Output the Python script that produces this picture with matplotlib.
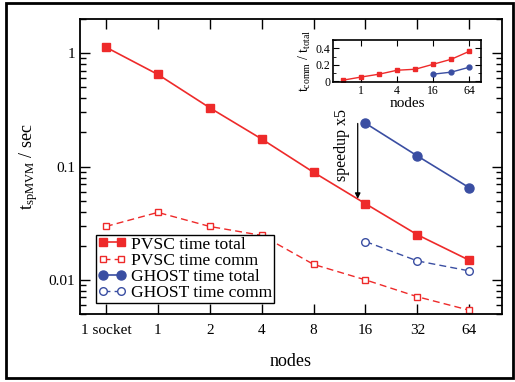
import numpy as np
import matplotlib.pyplot as plt
from matplotlib.patches import Rectangle
from matplotlib.ticker import LogLocator, NullFormatter, FixedLocator, MultipleLocator

plt.rcParams['font.family'] = 'Liberation Serif'
plt.rcParams['mathtext.fontset'] = 'custom'
plt.rcParams['mathtext.rm'] = 'Liberation Serif'
plt.rcParams['mathtext.it'] = 'Liberation Serif'

# main chart data
node_labels = ['1 socket', '1', '2', '4', '8', '16', '32', '64']
pvsc_total = [1.13, 0.65, 0.33, 0.175, 0.089, 0.047, 0.025, 0.0149]
pvsc_comm = [0.0296, 0.0394, 0.0296, 0.0247, 0.0137, 0.0100, 0.0071, 0.0054]
ghost_labels = ['16', '32', '64']
ghost_total = [0.241, 0.124, 0.065]
ghost_comm = [0.0218, 0.0147, 0.0120]

# inset data (ratio comm / total)
inset_nodes = [0.5, 1, 2, 4, 8, 16, 32, 64]
pvsc_ratio = [0.012, 0.05, 0.085, 0.133, 0.145, 0.206, 0.267, 0.364]
ghost_nodes = [16, 32, 64]
ghost_ratio = [0.085, 0.11, 0.17]

red = '#ee2a2a'
blue = '#3a4ea2'

fig = plt.figure(figsize=(5.15, 3.82), dpi=100)
fig.patches.append(Rectangle((0.011, 0.01), 0.985, 0.982, transform=fig.transFigure,
                             fill=False, edgecolor='black', linewidth=2))

ax = fig.add_axes([0.1553, 0.178, 0.8195, 0.772])
x = np.arange(len(node_labels))
gx = [node_labels.index(g) for g in ghost_labels]

ax.plot(x, pvsc_total, '-s', color=red, lw=1.2, ms=5.5,
        label='PVSC time total')
ax.plot(x, pvsc_comm, '--s', color=red, lw=1.0, ms=5, mfc='white',
        mew=1.0, dashes=(5, 3), label='PVSC time comm')
ax.plot(gx, ghost_total, '-o', color=blue, lw=1.2, ms=6.5,
        label='GHOST time total')
ax.plot(gx, ghost_comm, '--o', color=blue, lw=1.0, ms=5.5, mfc='white',
        mew=1.0, dashes=(5, 3), label='GHOST time comm')

ax.set_yscale('log')
ax.set_ylim(0.005, 2.0)
ax.set_xlim(-0.5, 7.63)
ax.set_xticks(x)
ax.set_xticklabels(node_labels)
ax.yaxis.set_major_locator(FixedLocator([0.01, 0.1, 1]))
ax.set_yticklabels(['0.01', '0.1', '1'])
ax.yaxis.set_minor_locator(LogLocator(base=10, subs=np.arange(2, 10)))
ax.yaxis.set_minor_formatter(NullFormatter())
ax.tick_params(which='both', direction='in', top=True, right=True,
               labelsize=11)
ax.tick_params(which='major', length=7, width=1)
ax.tick_params(which='minor', length=4, width=1)
ax.tick_params(axis='x', which='major', pad=7)
for s in ax.spines.values():
    s.set_linewidth(1.3)
ax.set_xlabel('nodes', fontsize=13, labelpad=12)
ax.set_ylabel(r'$\mathrm{t_{spMVM}}$ / sec', fontsize=13, labelpad=6)

ax.annotate('', xy=(4.85, 0.052), xytext=(4.85, 0.24),
            arrowprops=dict(arrowstyle='-|>', color='black', lw=0.9,
                            mutation_scale=8, shrinkA=0, shrinkB=0))
ax.text(4.54, 0.155, 'speedup x5', rotation=90, ha='center', va='center',
        fontsize=11.5)

leg = ax.legend(loc='lower left', fontsize=12.6, frameon=True, fancybox=False,
                edgecolor='black', framealpha=1, borderpad=0.1,
                labelspacing=0.0, handlelength=1.6, handletextpad=0.3,
                borderaxespad=0, bbox_to_anchor=(0.038, 0.037), numpoints=2)
leg.get_frame().set_linewidth(1.0)

# inset
ins = fig.add_axes([0.6466, 0.785, 0.2874, 0.11])
ins.plot(inset_nodes, pvsc_ratio, '-s', color=red, lw=1.0, ms=3.5)
ins.plot(ghost_nodes, ghost_ratio, '-o', color=blue, lw=1.0, ms=3.5)
ins.set_xscale('log', base=2)
ins.set_xlim(0.34, 100)
ins.set_ylim(-0.012, 0.5)
ins.xaxis.set_major_locator(FixedLocator([1, 4, 16, 64]))
ins.xaxis.set_minor_locator(FixedLocator([]))
ins.set_xticklabels(['1', '4', '16', '64'])
ins.yaxis.set_major_locator(FixedLocator([0, 0.2, 0.4]))
ins.set_yticklabels(['0', '0.2', '0.4'])
ins.yaxis.set_minor_locator(MultipleLocator(0.1))
ins.tick_params(which='both', direction='in', top=True, right=True,
                labelsize=8.5, pad=2)
ins.tick_params(which='major', length=4)
ins.tick_params(which='minor', length=2.5)
for s in ins.spines.values():
    s.set_linewidth(1.2)
ins.set_xlabel('nodes', fontsize=11, labelpad=0)
ins.set_ylabel(r'$\mathrm{t_{comm}}$ / $\mathrm{t_{total}}$', fontsize=10,
               labelpad=2)

fig.savefig('out.png', dpi=100)
